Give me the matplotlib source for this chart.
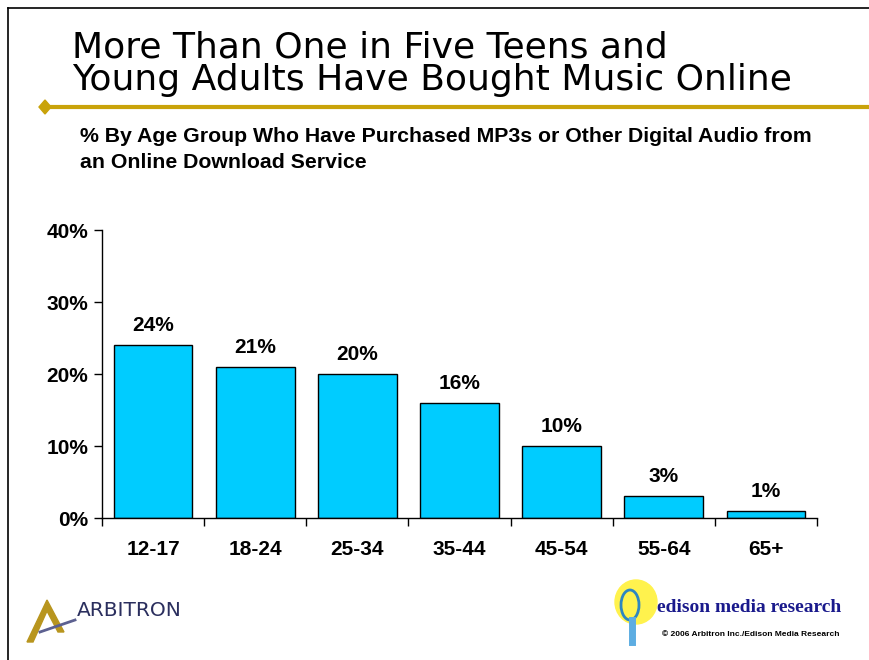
import matplotlib
matplotlib.use("Agg")
import matplotlib.pyplot as plt
from matplotlib.patches import Polygon, Ellipse
from matplotlib.lines import Line2D

age_groups = ["12-17", "18-24", "25-34", "35-44", "45-54", "55-64", "65+"]
pct_purchased = [24, 21, 20, 16, 10, 3, 1]
y_ticks = [0, 10, 20, 30, 40]

W, H = 869, 660
fig = plt.figure(figsize=(W / 100, H / 100), dpi=100)
plt.rcParams["font.family"] = ["Liberation Sans", "DejaVu Sans"]


def fx(px):
    return px / W


def fy(py):
    return 1 - py / H


# frame lines (left and top)
fig.add_artist(Line2D([fx(8), fx(8)], [fy(8), 0], color="black", lw=1.2))
fig.add_artist(Line2D([fx(8), 1], [fy(8), fy(8)], color="black", lw=1.2))

# title
title_font = ["DejaVu Sans"]
fig.text(fx(72), fy(47), "More Than One in Five Teens and", fontsize=26,
         family=title_font, va="center", ha="left")
fig.text(fx(72), fy(80), "Young Adults Have Bought Music Online", fontsize=26,
         family=title_font, va="center", ha="left")

# gold rule with diamond
gold = "#C9A30A"
fig.add_artist(Line2D([fx(45), 1], [fy(107), fy(107)], color=gold, lw=3))
fig.add_artist(Polygon([[fx(39), fy(107)], [fx(45), fy(100)], [fx(51), fy(107)], [fx(45), fy(114)]],
                       closed=True, color=gold, transform=fig.transFigure))

# subtitle
fig.text(fx(80), fy(136), "% By Age Group Who Have Purchased MP3s or Other Digital Audio from",
         fontsize=15.3, fontweight="bold", va="center", ha="left")
fig.text(fx(80), fy(162), "an Online Download Service",
         fontsize=15.3, fontweight="bold", va="center", ha="left")

# chart
ax = fig.add_axes([fx(102), fy(518), fx(817) - fx(102), (518 - 230) / H])
x = range(len(age_groups))
bars = ax.bar(x, pct_purchased, width=0.77, color="#00CCFF", edgecolor="black", linewidth=1)
for xi, v in zip(x, pct_purchased):
    ax.text(xi, v + 1.4, f"{v}%", ha="center", va="bottom", fontsize=15, fontweight="bold")

ax.set_xlim(-0.5, len(age_groups) - 0.5)
ax.set_ylim(0, 40)
ax.set_yticks(y_ticks)
ax.set_yticklabels([f"{t}%" for t in y_ticks], fontsize=15, fontweight="bold")
ax.set_xticks(list(x))
ax.set_xticklabels(age_groups, fontsize=15, fontweight="bold")
ax.tick_params(axis="x", length=0, pad=16)
ax.tick_params(axis="y", length=6, width=1, direction="out", pad=4)
# category boundary ticks on the x axis
ax.set_xticks([i + 0.5 for i in range(-1, len(age_groups))], minor=True)
ax.tick_params(axis="x", which="minor", length=6, width=1, direction="out")
for s in ["top", "right"]:
    ax.spines[s].set_visible(False)
ax.spines["left"].set_linewidth(1)
ax.spines["bottom"].set_linewidth(1)

# Arbitron logo (approximation)
fig.add_artist(Polygon([[fx(27), fy(642)], [fx(47), fy(600)], [fx(64), fy(632)], [fx(58), fy(632)],
                        [fx(47), fy(611)], [fx(33), fy(642)]],
                       closed=True, color="#B8951E", transform=fig.transFigure))
fig.add_artist(Line2D([fx(40), fx(75)], [fy(632), fy(620)], color="#5C6090", lw=2))
fig.text(fx(77), fy(610), "ARBITRON", fontsize=14.5, family=["DejaVu Sans"], color="#2B2F5E",
         va="center", ha="left")

# Edison logo (approximation)
fig.add_artist(Ellipse((fx(636), fy(602)), 42 / W, 44 / H, color="#FFF24D",
                       transform=fig.transFigure))
fig.add_artist(Ellipse((fx(630), fy(605)), 18 / W, 30 / H, fill=False, ec="#2E86C1", lw=2,
                       transform=fig.transFigure))
fig.add_artist(Line2D([fx(632), fx(632)], [fy(620), fy(642)], color="#5DADE2", lw=5))
fig.text(fx(657), fy(608), "edison media research", fontsize=14, fontweight="bold",
         family=["Liberation Serif", "DejaVu Serif"], color="#1A1A8C", va="center", ha="left")
fig.text(fx(662), fy(635), "\u00a9 2006 Arbitron Inc./Edison Media Research", fontsize=6,
         fontweight="bold", va="center", ha="left")

fig.savefig("out.png", dpi=100)
